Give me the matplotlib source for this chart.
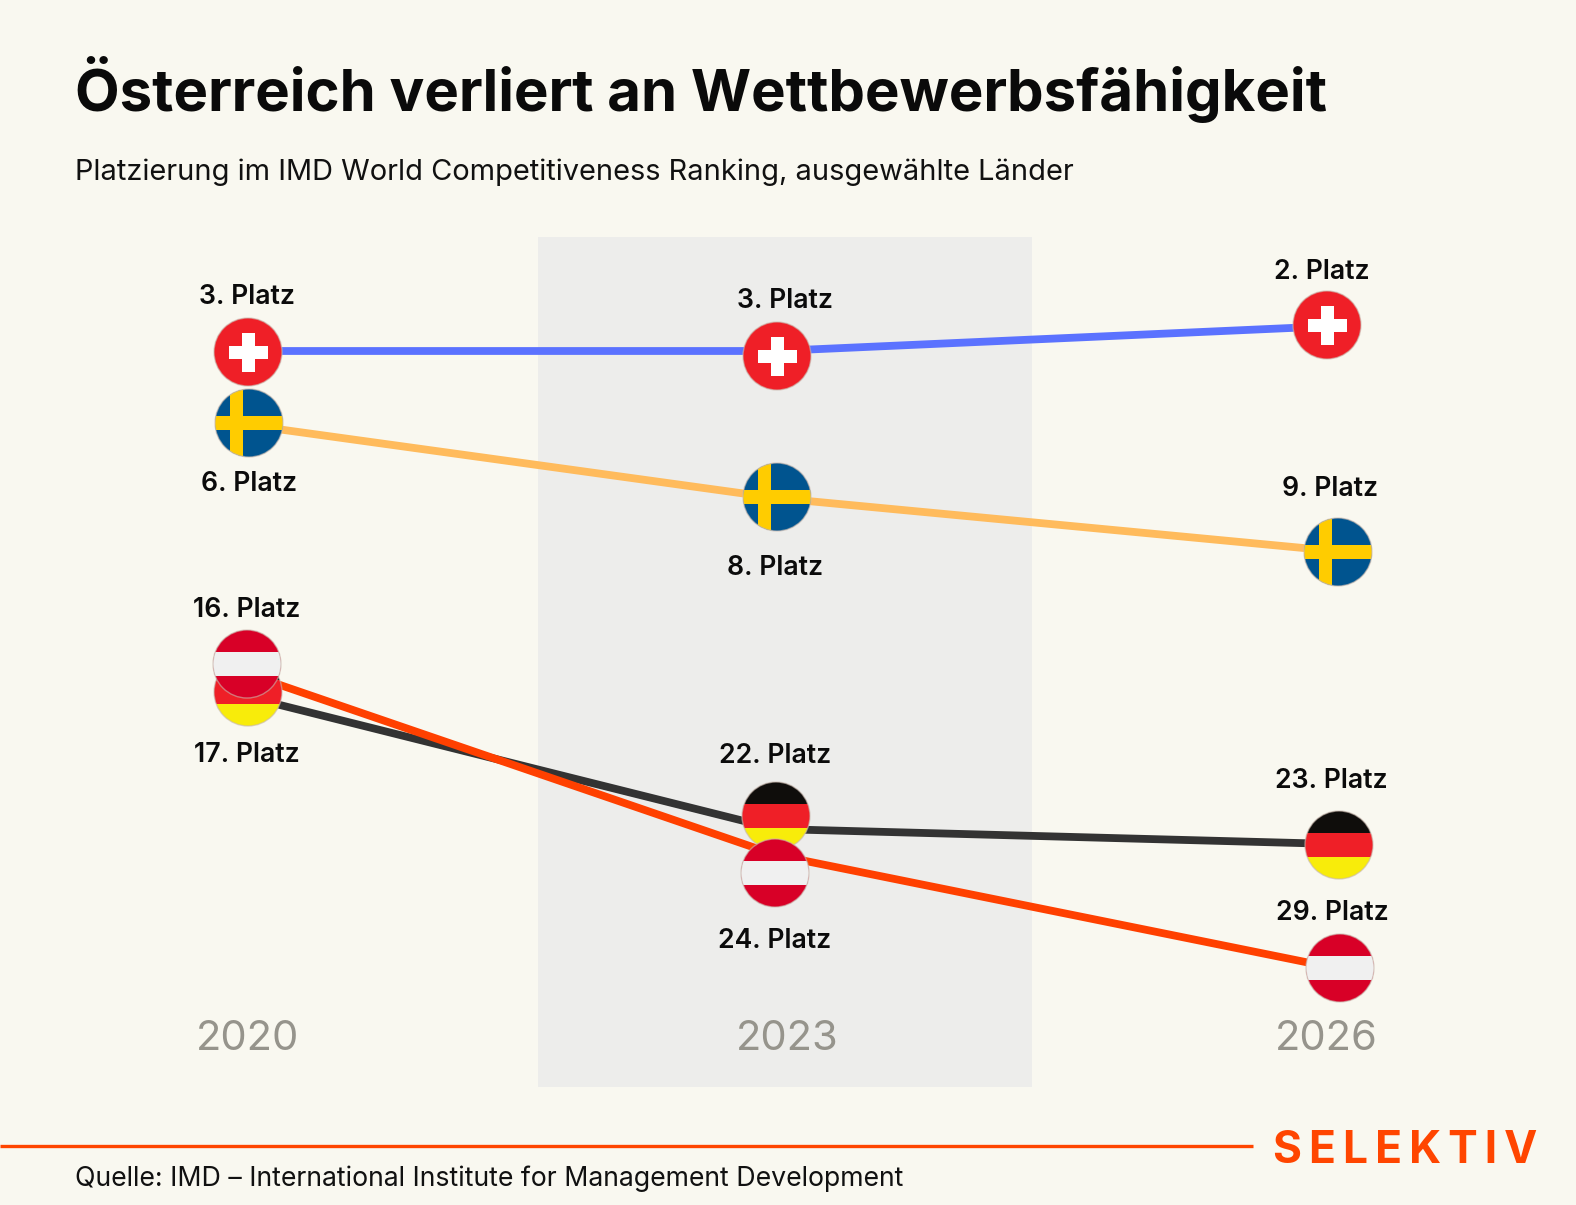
import matplotlib
matplotlib.use('Agg')
import matplotlib.pyplot as plt
from matplotlib.patches import Circle, Rectangle
import numpy as np

plt.rcParams['font.family'] = ['Inter', 'DejaVu Sans']

# Data
years = [2020, 2023, 2026]
rank_ch = [3, 3, 2]
rank_se = [6, 8, 9]
rank_de = [17, 22, 23]
rank_at = [16, 24, 29]

title = 'Österreich verliert an Wettbewerbsfähigkeit'
subtitle = 'Platzierung im IMD World Competitiveness Ranking, ausgewählte Länder'
source = 'Quelle: IMD – International Institute for Management Development'

# The picture has no even axis, so both scales are bent to fit it
W, H = 1576, 1205
rank_knots = [0, 2, 3, 6, 8, 9, 16, 17, 22, 23, 24, 29, 40]
rank_px = [0, 326, 351, 425, 498, 551, 674, 697, 829, 844, 855, 968, 1205]
year_knots = [2010, 2020, 2023, 2026, 2036]
year_px = [-100, 248, 776, 1335, W + 100]

BG = '#F9F8F0'
fig = plt.figure(figsize=(W / 100, H / 100), dpi=100, facecolor=BG)

# pixel layer for band, text and flags
ax_px = fig.add_axes([0, 0, 1, 1], zorder=1)
ax_px.set_xlim(0, W)
ax_px.set_ylim(H, 0)
ax_px.axis('off')

ax = fig.add_axes([0, 0, 1, 1], zorder=2)
ax.patch.set_alpha(0)
ax.set_xscale('function', functions=(lambda v: np.interp(v, year_knots, year_px),
                                     lambda v: np.interp(v, year_px, year_knots)))
ax.set_yscale('function', functions=(lambda v: np.interp(v, rank_knots, rank_px),
                                     lambda v: np.interp(v, rank_px, rank_knots)))
ax.set_xlim(np.interp(0, year_px, year_knots), np.interp(W, year_px, year_knots))
ax.set_ylim(np.interp(H, rank_px, rank_knots), 0)
ax.axis('off')

ax_top = fig.add_axes([0, 0, 1, 1], zorder=3)
ax_top.set_xlim(0, W)
ax_top.set_ylim(H, 0)
ax_top.axis('off')

ax_px.add_patch(Rectangle((538, 237), 494, 850, color='#EDEDEB', lw=0))

ax.plot(years, rank_ch, color='#5B72FF', lw=5.6, solid_capstyle='butt')
ax.plot(years, rank_se, color='#FFBB5C', lw=5.6, solid_capstyle='butt')
ax.plot(years, rank_de, color='#333333', lw=5.6, solid_capstyle='butt')
ax.plot(years, rank_at, color='#FF4000', lw=5.6, solid_capstyle='butt')


def flag(cx, cy, kind):
    r = 34
    disc = Circle((cx, cy), r, facecolor='none', edgecolor='none')
    ax_top.add_patch(disc)
    parts = []
    if kind == 'ch':
        parts.append(('#EF1F27', -r, -r, 2 * r, 2 * r))
        parts.append(('#FFFFFF', -19.5, -6.5, 39, 13))
        parts.append(('#FFFFFF', -6.5, -19.5, 13, 39))
    elif kind == 'se':
        parts.append(('#00548F', -r, -r, 2 * r, 2 * r))
        parts.append(('#FFCC00', -r, -6.6, 2 * r, 13.2))
        parts.append(('#FFCC00', -19.5, -r, 13, 2 * r))
    elif kind == 'de':
        parts.append(('#0F0D0B', -r, -r, 2 * r, r - 12))
        parts.append(('#EF1F27', -r, -12, 2 * r, 24))
        parts.append(('#F8EC0A', -r, 12, 2 * r, r - 12))
    else:
        parts.append(('#D80027', -r, -r, 2 * r, 2 * r))
        parts.append(('#F0F0F0', -r, -11.7, 2 * r, 23.4))
    for c, x0, y0, w, h in parts:
        p = Rectangle((cx + x0, cy + y0), w, h, color=c, lw=0)
        ax_top.add_patch(p)
        p.set_clip_path(disc)
    ax_top.add_patch(Circle((cx, cy), r, facecolor='none', edgecolor='#C9B8AE', lw=1, alpha=0.6))


# flags and labels sit a bit off the line ends in the original (pixels)
flag_shift = {
    'ch': [(0, 1), (1, 5), (-8, -1)],
    'se': [(1, -2), (1, -1), (3, 1)],
    'de': [(0, -5), (0, -13), (4, 1)],
    'at': [(-1, -10), (-1, 18), (5, 0)],
}
label_shift = {
    'ch': [(-1, -55), (8, -55), (-5, -53)],
    'se': [(0, 61), (-2, 71), (-8, -63)],
    'de': [(-1, 63), (-1, -60), (-8, -64)],
    'at': [(0, -54), (0, 68), (-8, -55)],
}
ranks = {'ch': rank_ch, 'se': rank_se, 'de': rank_de, 'at': rank_at}

fig.canvas.draw()
to_px = ax.transData
for kind in ['ch', 'se', 'de', 'at']:
    for i, yr in enumerate(years):
        px, py = to_px.transform((yr, ranks[kind][i]))
        py = H - py
        dx, dy = flag_shift[kind][i]
        flag(px + dx, py + dy, kind)
        lx, ly = label_shift[kind][i]
        ax_top.text(px + dx + lx, py + dy + ly, f'{ranks[kind][i]}. Platz', fontsize=19.2,
                    fontweight='semibold', color='#0B0B0B', ha='center', va='center')

year_label_x = [248, 787, 1326]
for x, yr in zip(year_label_x, years):
    ax_top.text(x, 1039, str(yr), fontsize=30, color='#96948C', ha='center', va='center')

ax_top.text(75, 111, title, fontsize=41.85, fontweight='bold', color='#0A0A0A', va='baseline')
ax_top.text(75, 180, subtitle, fontsize=20.9, color='#111111', va='baseline')
ax_top.text(75, 1186, source, fontsize=19.22, color='#111111', va='baseline')

ax_top.plot([0, 1253], [1146, 1146], color='#FF4500', lw=2.4, solid_capstyle='butt')
ax_top.text(1273, 1163, '\u2009'.join('SELEKTIV'), fontsize=32, fontweight='bold',
            color='#FF4500', va='baseline')

fig.savefig('out.png', dpi=100, facecolor=BG)
